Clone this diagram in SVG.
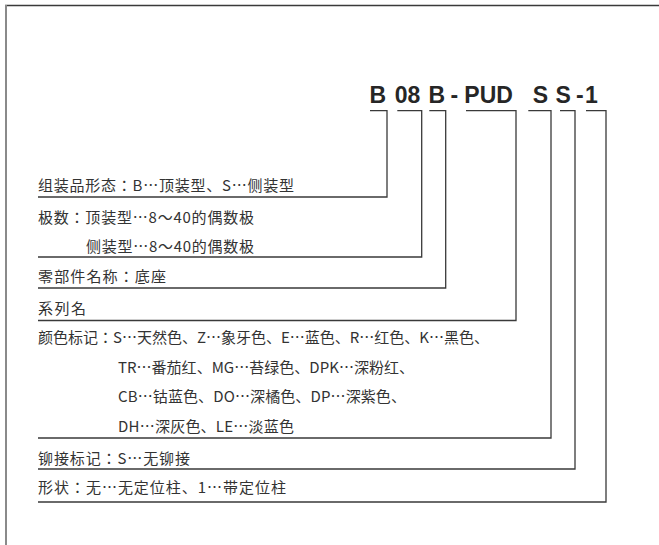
<svg xmlns="http://www.w3.org/2000/svg" width="659" height="545" viewBox="0 0 659 545" xml:lang="ja">
  <style>
    .code { font-family: "Liberation Sans", Arial, sans-serif; font-weight: bold; font-size: 23px; fill: #262626; }
    .lbl { font-family: "Noto Sans CJK JP", "Noto Sans CJK SC", sans-serif; font-size: 15px; fill: #333333; }
    .conn { fill: none; stroke: #3a3a3a; stroke-width: 1.3; }
  </style>
  <rect x="0" y="0" width="659" height="545" fill="#ffffff"/>
  <g id="frame">
    <line x1="5" y1="5.5" x2="659" y2="5.5" stroke="#3a3a3a" stroke-width="1.6"/>
    <line x1="6" y1="5" x2="6" y2="545" stroke="#8a8a8a" stroke-width="2"/>
  </g>
  <g id="code">
    <text class="code" x="369.5" y="103.3">B</text>
    <text class="code" x="394.8" y="103.3">08</text>
    <text class="code" x="428.5" y="103.3">B</text>
    <text class="code" x="450.5" y="103.3">-</text>
    <text class="code" x="464.3" y="103.3">PUD</text>
    <text class="code" x="532.8" y="103.3">S</text>
    <text class="code" x="555.5" y="103.3">S</text>
    <text class="code" x="576" y="103.3">-</text>
    <text class="code" x="585" y="103.3">1</text>
  </g>
  <g id="connectors">
    <polyline class="conn" points="370,110.7 387,110.7 387,197 38,197"/>
    <polyline class="conn" points="397.3,110.7 421.7,110.7 421.7,257 38,257"/>
    <polyline class="conn" points="429.3,110.7 445.7,110.7 445.7,288 38,288"/>
    <polyline class="conn" points="466,110.7 516,110.7 516,320.5 38,320.5"/>
    <polyline class="conn" points="528.3,110.7 551,110.7 551,438 38,438"/>
    <polyline class="conn" points="560,110.7 575,110.7 575,469 38,469"/>
    <polyline class="conn" points="586,110.7 606,110.7 606,502 38,502"/>
  </g>
  <g id="form">
    <text class="lbl" x="38" y="190.5" textLength="256" lengthAdjust="spacing">组装品形态：B…顶装型、S…侧装型</text>
  </g>
  <g id="poles">
    <text class="lbl" x="38" y="222.5" textLength="216" lengthAdjust="spacing">极数：顶装型…8～40的偶数极</text>
    <text class="lbl" x="86" y="251.5" textLength="168" lengthAdjust="spacing">侧装型…8～40的偶数极</text>
  </g>
  <g id="part">
    <text class="lbl" x="38" y="281.5" textLength="128" lengthAdjust="spacing">零部件名称：底座</text>
  </g>
  <g id="series">
    <text class="lbl" x="38" y="314" textLength="48" lengthAdjust="spacing">系列名</text>
  </g>
  <g id="color">
    <text class="lbl" x="38" y="343" textLength="451" lengthAdjust="spacing">颜色标记：S…天然色、Z…象牙色、E…蓝色、R…红色、K…黑色、</text>
    <text class="lbl" x="118" y="372.5" textLength="296" lengthAdjust="spacing">TR…番茄红、MG…苔绿色、DPK…深粉红、</text>
    <text class="lbl" x="118" y="402" textLength="288" lengthAdjust="spacing">CB…钴蓝色、DO…深橘色、DP…深紫色、</text>
    <text class="lbl" x="118" y="432" textLength="176" lengthAdjust="spacing">DH…深灰色、LE…淡蓝色</text>
  </g>
  <g id="rivet">
    <text class="lbl" x="38" y="463.5" textLength="152" lengthAdjust="spacing">铆接标记：S…无铆接</text>
  </g>
  <g id="shape">
    <text class="lbl" x="38" y="492.5" textLength="248" lengthAdjust="spacing">形状：无…无定位柱、1…带定位柱</text>
  </g>
</svg>
